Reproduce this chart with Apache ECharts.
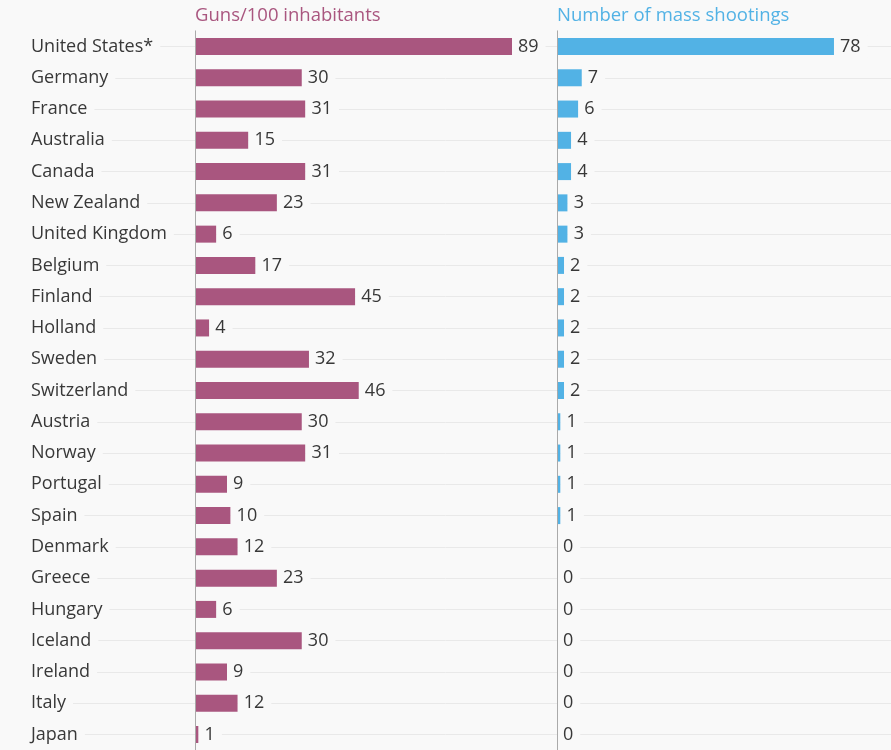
<!DOCTYPE html>
<html>
<head>
<meta charset="utf-8">
<script src="https://cdn.jsdelivr.net/npm/echarts@6/dist/echarts.min.js"></script>
<style>html,body{margin:0;padding:0;background:#f9f9f9;}#c{width:891px;height:750px;}</style>
</head>
<body>
<div id="c"></div>
<script>
const countries = ["United States*","Germany","France","Australia","Canada","New Zealand","United Kingdom","Belgium","Finland","Holland","Sweden","Switzerland","Austria","Norway","Portugal","Spain","Denmark","Greece","Hungary","Iceland","Ireland","Italy","Japan"];
const guns = [89,30,31,15,31,23,6,17,45,4,32,46,30,31,9,10,12,23,6,30,9,12,1];
const shootings = [78,7,6,4,4,3,3,2,2,2,2,2,1,1,1,1,0,0,0,0,0,0,0];
const titleGuns = "Guns/100 inhabitants";
const titleShoot = "Number of mass shootings";

const BG = '#f9f9f9';
const FONT = 'Open Sans';
const TXT = '#383838';
const PINK = '#a9567f';
const BLUE = '#52b2e5';
const rowH = 688 / 22;
const gTop = 46.5 - rowH / 2;
const gH = rowH * 23;

const chart = echarts.init(document.getElementById('c'), null, {renderer: 'canvas'});
const valLabel = {
  show: true, position: 'right', distance: 0,
  color: TXT, fontFamily: FONT, fontSize: 18,
  backgroundColor: BG, padding: [2, 7, 2, 6]
};
chart.setOption({
  backgroundColor: BG,
  animation: false,
  title: [
    {text: titleGuns, left: 195, top: 6, padding: 0, textStyle: {color: PINK, fontFamily: FONT, fontSize: 18.5, fontWeight: 'normal'}},
    {text: titleShoot, left: 557, top: 6, padding: 0, textStyle: {color: BLUE, fontFamily: FONT, fontSize: 18.5, fontWeight: 'normal'}}
  ],
  grid: [
    {left: 195, top: gTop, width: 356.2, height: gH, outerBoundsMode: 'none', containLabel: false},
    {left: 557, top: gTop, width: 319.6, height: gH, outerBoundsMode: 'none', containLabel: false},
    {left: 0, right: 0, top: 46.5, height: 688, outerBoundsMode: 'none', containLabel: false}
  ],
  xAxis: [
    {type: 'value', gridIndex: 0, min: 0, max: 100, show: false},
    {type: 'value', gridIndex: 1, min: 0, max: 90, show: false},
    {type: 'value', gridIndex: 2, min: 0, max: 1, show: false}
  ],
  yAxis: [
    {type: 'category', gridIndex: 0, data: countries, inverse: true, z: 3,
     axisLine: {show: true, lineStyle: {color: '#aaaaaa', width: 1}},
     axisTick: {show: false},
     axisLabel: {align: 'left', margin: 195, color: TXT, fontFamily: FONT, fontSize: 18,
                 backgroundColor: BG, padding: [3, 7, 3, 31]}},
    {type: 'category', gridIndex: 1, data: countries, inverse: true, z: 3,
     axisLine: {show: true, lineStyle: {color: '#aaaaaa', width: 1}},
     axisTick: {show: false}, axisLabel: {show: false}},
    {type: 'value', gridIndex: 2, min: 0, max: 22, interval: 1, z: 0,
     axisLine: {show: false}, axisTick: {show: false}, axisLabel: {show: false},
     splitLine: {show: true, lineStyle: {color: '#e9e9e9', width: 1}}}
  ],
  series: [
    {type: 'bar', xAxisIndex: 0, yAxisIndex: 0, data: guns, barWidth: 17,
     itemStyle: {color: PINK}, label: valLabel},
    {type: 'bar', xAxisIndex: 1, yAxisIndex: 1, data: shootings, barWidth: 17,
     itemStyle: {color: BLUE}, label: valLabel}
  ]
});
</script>
</body>
</html>
